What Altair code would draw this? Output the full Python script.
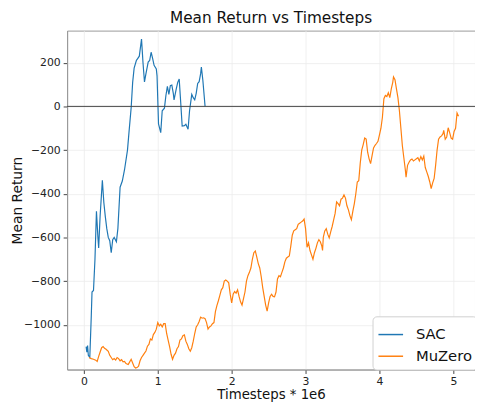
import altair as alt
import pandas as pd

sac_x = [0.03, 0.04, 0.05, 0.06, 0.08, 0.10, 0.11, 0.13, 0.15, 0.17, 0.19, 0.20, 0.22, 0.25, 0.27, 0.29,
         0.31, 0.33, 0.35, 0.37, 0.39, 0.41, 0.44, 0.46, 0.49, 0.52, 0.55, 0.59, 0.61, 0.64, 0.66, 0.68,
         0.71, 0.73, 0.75, 0.78, 0.80, 0.82, 0.84, 0.87, 0.89, 0.91, 0.93, 0.95, 0.98, 0.99, 1.01, 1.04,
         1.06, 1.09, 1.11, 1.13, 1.15, 1.17, 1.19, 1.21, 1.22, 1.25, 1.27, 1.29, 1.31, 1.33, 1.36, 1.38,
         1.41, 1.43, 1.46, 1.48, 1.50, 1.52, 1.54, 1.56, 1.58, 1.59, 1.61, 1.64]
sac_y = [-1100, -1125, -1095, -1140, -1150, -960, -850, -843, -700, -480, -600, -648, -500, -338, -440, -505,
         -560, -600, -615, -670, -610, -600, -620, -560, -370, -342, -290, -200, -120, -5, 110, 175,
         210, 220, 230, 308, 200, 112, 150, 203, 210, 248, 220, 188, 172, 140, -80, -120,
         -20, -8, 50, 92, 55, 95, 98, 60, 30, 80, 110, 125, 20, -90, -88, -82,
         -105, -20, 55, 40, 30, 60, 105, 113, 150, 180, 120, 0]

muz_x = [0.07, 0.10, 0.13, 0.16, 0.18, 0.20, 0.22, 0.24, 0.26, 0.28, 0.30, 0.33, 0.35, 0.37, 0.39, 0.41,
         0.43, 0.45, 0.47, 0.49, 0.51, 0.53, 0.55, 0.57, 0.60, 0.62, 0.64, 0.66, 0.68, 0.70, 0.72, 0.74,
         0.76, 0.78, 0.80, 0.82, 0.84, 0.86, 0.88, 0.90, 0.92, 0.94, 0.96, 0.98, 1.00, 1.02, 1.04, 1.06,
         1.08, 1.10, 1.12, 1.14, 1.16, 1.18, 1.20, 1.22, 1.24, 1.26, 1.28, 1.30, 1.32, 1.34, 1.36, 1.38,
         1.40, 1.42, 1.44, 1.46, 1.48, 1.50, 1.52, 1.54, 1.56, 1.58, 1.60, 1.62, 1.64, 1.66, 1.68, 1.70,
         1.72, 1.74, 1.76, 1.78, 1.80, 1.82, 1.84, 1.86, 1.88, 1.90, 1.92, 1.94, 1.96, 1.98, 2.00, 2.02,
         2.04, 2.06, 2.08, 2.10, 2.12, 2.14, 2.16, 2.18, 2.20, 2.22, 2.24, 2.26, 2.28, 2.30, 2.32, 2.34,
         2.36, 2.38, 2.40, 2.42, 2.44, 2.46, 2.48, 2.50, 2.52, 2.54, 2.56, 2.58, 2.60, 2.62, 2.64, 2.66,
         2.68, 2.70, 2.72, 2.74, 2.76, 2.78, 2.80, 2.82, 2.84, 2.86, 2.88, 2.90, 2.92, 2.94, 2.96, 2.98,
         3.00, 3.02, 3.04, 3.06, 3.08, 3.10, 3.12, 3.14, 3.16, 3.18, 3.20, 3.22, 3.23, 3.24, 3.26, 3.28,
         3.30, 3.32, 3.34, 3.36, 3.38, 3.40, 3.42, 3.44, 3.46, 3.48, 3.50, 3.52, 3.54, 3.56, 3.58, 3.60,
         3.62, 3.64, 3.66, 3.68, 3.70, 3.72, 3.74, 3.76, 3.78, 3.80, 3.82, 3.84, 3.86, 3.88, 3.90, 3.92,
         3.94, 3.96, 3.98, 4.00, 4.02, 4.04, 4.06, 4.08, 4.10, 4.12, 4.14, 4.16, 4.18, 4.19, 4.21, 4.23,
         4.25, 4.27, 4.29, 4.31, 4.33, 4.35, 4.36, 4.38, 4.40, 4.42, 4.44, 4.46, 4.48, 4.50, 4.52, 4.54,
         4.56, 4.58, 4.60, 4.62, 4.64, 4.66, 4.68, 4.70, 4.72, 4.74, 4.76, 4.78, 4.80, 4.82, 4.84, 4.86,
         4.87, 4.89, 4.91, 4.93, 4.95, 4.97, 4.99, 5.01, 5.03, 5.05, 5.07]
muz_y = [-1150, -1155, -1158, -1162, -1168, -1145, -1125, -1105, -1100, -1108, -1112, -1122, -1140, -1150, -1160, -1155,
         -1162, -1150, -1155, -1165, -1160, -1170, -1168, -1178, -1182, -1170, -1158, -1175, -1192, -1198, -1196, -1190,
         -1165, -1150, -1140, -1130, -1120, -1098, -1090, -1065, -1070, -1045, -1035, -1020, -990, -1005, -998, -1010,
         -995, -995, -1040, -1070, -1100, -1135, -1158, -1140, -1130, -1110, -1100, -1070, -1065, -1050, -1046, -1075,
         -1090, -1110, -1121, -1105, -1075, -1040, -1010, -1000, -985, -965, -970, -968, -972, -990, -1020, -1010,
         -1005, -995, -990, -940, -912, -890, -865, -840, -830, -800, -795, -800, -808, -860, -900, -860,
         -848, -855, -840, -870, -895, -910, -880, -850, -800, -775, -760, -740, -700, -670, -662, -690,
         -720, -740, -780, -830, -870, -910, -938, -900, -870, -860, -870, -872, -850, -790, -775, -780,
         -760, -740, -712, -695, -690, -685, -640, -590, -570, -565, -560, -540, -535, -530, -525, -516,
         -560, -645, -625, -660, -680, -700, -670, -650, -625, -610, -620, -640, -660, -600, -570, -560,
         -585, -602, -575, -550, -520, -490, -437, -445, -455, -425, -420, -405, -420, -455, -474, -500,
         -519, -480, -445, -400, -346, -340, -260, -200, -175, -145, -150, -210, -240, -262, -225, -190,
         -178, -170, -160, -130, -100, -50, 35, 50, 45, 62, 40, 80, 110, 135, 122, 80,
         40, -20, -100, -180, -235, -290, -324, -270, -256, -245, -241, -250, -245, -240, -235, -250,
         -230, -245, -228, -280, -300, -320, -345, -376, -350, -330, -270, -200, -150, -140, -135, -125,
         -110, -150, -140, -98, -120, -145, -150, -115, -100, -30, -45]

x_ticks = [0, 1, 2, 3, 4, 5]
y_ticks = [-1000, -800, -600, -400, -200, 0, 200]
series_names = ["SAC", "MuZero"]
series_colors = ["#1f77b4", "#ff7f0e"]

df = pd.concat([
    pd.DataFrame({"x": sac_x, "y": sac_y, "series": "SAC"}),
    pd.DataFrame({"x": muz_x, "y": muz_y, "series": "MuZero"}),
], ignore_index=True)
zero_df = pd.DataFrame({"y": [0]})

FONT = "DejaVu Sans"

xs = alt.Scale(domain=[-0.227, 5.293], nice=False, zero=False)
ys = alt.Scale(domain=[-1205, 347], nice=False, zero=False)

lines = alt.Chart(df).mark_line(strokeWidth=1.2, clip=True).encode(
    x=alt.X("x:Q", scale=xs,
            axis=alt.Axis(values=x_ticks, format="d", title="Timesteps * 1e6",
                          titlePadding=1, labelPadding=2, titleFontSize=13.5)),
    y=alt.Y("y:Q", scale=ys,
            axis=alt.Axis(values=y_ticks, format="d", title="Mean Return", titleX=-50,
                          titleBaseline="middle", titleAngle=270)),
    color=alt.Color("series:N", sort=series_names,
                    scale=alt.Scale(domain=series_names, range=series_colors),
                    legend=alt.Legend(title=None, orient="none", legendX=310, legendY=290,
                                      symbolType="stroke", symbolSize=625, symbolStrokeWidth=1.5,
                                      labelFontSize=15, labelFont=FONT, labelColor="#111",
                                      padding=5, rowPadding=-5, labelOffset=12,
                                      fillColor="white", strokeColor="#d0d0d0", cornerRadius=4)),
)

zero = alt.Chart(zero_df).mark_rule(color="#444", strokeWidth=1).encode(y=alt.Y("y:Q", scale=ys))

chart = alt.layer(lines, zero).properties(
    width=414, height=344,
    title=alt.TitleParams("Mean Return vs Timesteps", fontSize=15.5, font=FONT,
                          fontWeight="normal", color="#111", offset=4),
    autosize=alt.AutoSizeParams(type="none"),
    padding={"left": 60, "top": 20, "right": 0, "bottom": 30},
).configure_view(
    stroke="#999", strokeWidth=1
).configure_axis(
    labelFont=FONT, labelFontSize=11, labelColor="#222",
    titleFont=FONT, titleFontSize=14, titleFontWeight="normal", titleColor="#111",
    gridColor="#ececec", gridWidth=0.8,
    domainColor="#999", tickColor="#444", tickSize=4, labelPadding=3,
)

chart.save("out.html", embed_options={"renderer": "svg", "actions": False})
